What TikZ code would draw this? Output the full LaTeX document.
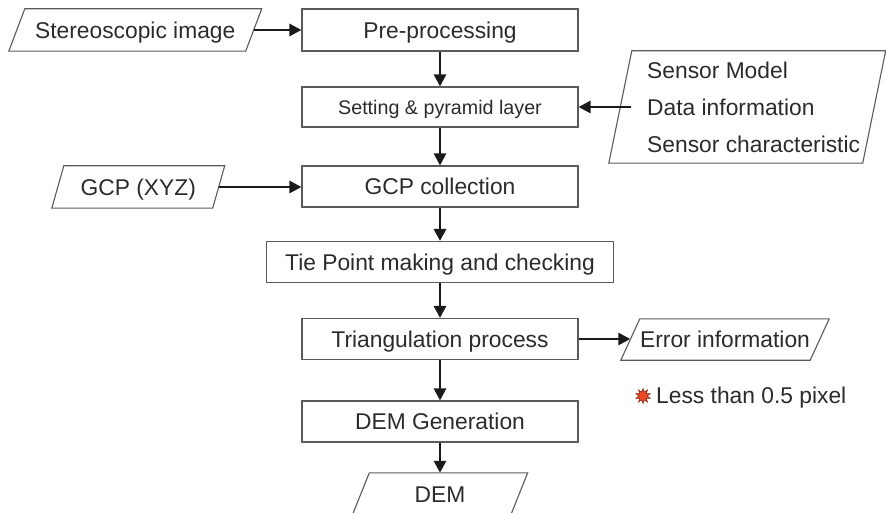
\documentclass[tikz,border=0pt]{standalone}
\usepackage{fontspec}
\setmainfont{Liberation Sans}
\usetikzlibrary{arrows.meta,shapes.geometric}
\definecolor{txt}{HTML}{2B2B2B}
\definecolor{boxc}{HTML}{5A5A5A}
\definecolor{arr}{HTML}{1A1A1A}
\definecolor{starfill}{HTML}{EA4A26}
\definecolor{starline}{HTML}{8A2A1A}
\begin{document}
\begin{tikzpicture}[x=1pt,y=-1pt,
  lbl/.style={inner sep=0pt, text=txt, font=\fontsize{22.8}{27}\selectfont, text height=16.3pt, text depth=0pt},
  procbox/.style={lbl, draw=boxc, line width=1.1pt, minimum width=276pt, minimum height=42pt},
  io/.style={lbl},
  conn/.style={-{Triangle[length=12pt,width=12pt]}, line width=2.8pt, draw=arr},
  outline/.style={draw=boxc, line width=1.1pt}
]
\useasboundingbox (0,0) rectangle (886,513);
% process boxes
\node[procbox] (pre) at (440,30) {Pre-processing};
\node[procbox, minimum height=40pt, font=\fontsize{19.7}{24}\selectfont, text height=14.1pt] (set) at (440,107) {Setting \& pyramid layer};
\node[procbox, minimum height=41pt] (gcpc) at (440,186.5) {GCP collection};
\node[procbox, minimum width=347pt, minimum height=41pt] (tie) at (440,262) {Tie Point making and checking};
\node[procbox, minimum height=41pt] (tri) at (440,339) {Triangulation process};
\node[procbox, minimum height=41pt] (demg) at (440,421.5) {DEM Generation};
% input/output parallelograms
\node[io, minimum width=236.5pt, minimum height=42pt] (stereo) at (135.25,30) {Stereoscopic image};
\node[io, minimum width=160.5pt, minimum height=42pt] (gxyz) at (138.25,187) {GCP (XYZ)};
\node[io, minimum width=253.5pt, minimum height=112pt] (sensor) at (747.25,107) {};
\node[io, minimum width=189pt, minimum height=41pt] (err) at (725,339.5) {Error information};
\node[io, minimum width=158pt, minimum height=42pt] (dem) at (440,494) {DEM};
\foreach \n/\d in {stereo/8, gxyz/6, sensor/11.5, err/9.5, dem/8.5}
  \draw[outline] ([xshift=\d pt]\n.north west) -- ([xshift=\d pt]\n.north east)
     -- ([xshift=-\d pt]\n.south east) -- ([xshift=-\d pt]\n.south west) -- cycle;
% sensor texts
\node[lbl, anchor=west] (s1) at (647,70) {Sensor Model};
\node[lbl, anchor=west] (s2) at (647,107) {Data information};
\node[lbl, anchor=west] (s3) at (647,144) {Sensor characteristic};
% note
\node[star, star points=10, star point ratio=1.8, minimum size=15pt, inner sep=0pt,
      fill=starfill, draw=starline, line width=0.6pt] (st) at (643,396) {};
\node[lbl, anchor=west] (less) at (656,395) {Less than 0.5 pixel};
% connectors
\draw[conn] (stereo.east) -- (pre.west);
\draw[conn] (pre) -- (set);
\draw[conn] ([xshift=11pt]sensor.west) -- (set.east);
\draw[conn] (set) -- (gcpc);
\draw[conn] (gxyz.east) -- (gxyz.east -| gcpc.west);
\draw[conn] (gcpc) -- (tie);
\draw[conn] (tie) -- (tri);
\draw[conn] (tri.east) -- (tri.east -| err.west);
\draw[conn] (tri) -- (demg);
\draw[conn] (demg) -- (dem);
\end{tikzpicture}
\end{document}
